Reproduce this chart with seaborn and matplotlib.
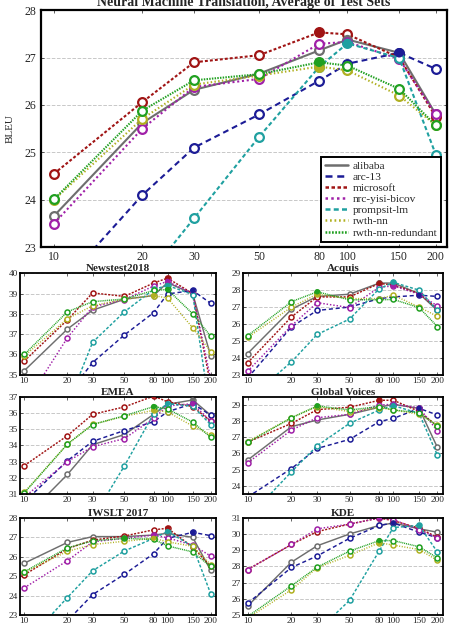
import matplotlib
matplotlib.use('Agg')
import matplotlib.pyplot as plt
from matplotlib.lines import Line2D
import seaborn as sns
import pandas as pd

sizes = [10, 20, 30, 50, 80, 100, 150, 200]
size_labels = ['10', '20', '30', '50', '80', '100', '150', '200']
systems = ['alibaba', 'arc-13', 'microsoft', 'nrc-yisi-bicov',
           'prompsit-lm', 'rwth-nn', 'rwth-nn-redundant']

# BLEU per system, one dict per test set
avg_scores = {
    'alibaba':           [23.66, 25.62, 26.32, 26.66, 27.15, 27.38, 27.10, 25.80],
    'arc-13':            [22.03, 24.10, 25.10, 25.80, 26.51, 26.87, 27.10, 26.76],
    'microsoft':         [24.55, 26.06, 26.90, 27.05, 27.53, 27.49, 27.00, 25.75],
    'nrc-yisi-bicov':    [23.50, 25.50, 26.38, 26.55, 27.29, 27.33, 26.97, 25.80],
    'prompsit-lm':       [20.50, 22.25, 23.61, 25.33, 26.80, 27.30, 26.99, 24.95],
    'rwth-nn':           [24.00, 25.71, 26.43, 26.62, 26.81, 26.73, 26.20, 25.57],
    'rwth-nn-redundant': [24.01, 25.88, 26.52, 26.65, 26.90, 26.83, 26.34, 25.57],
}
newstest_scores = {
    'alibaba':           [35.20, 37.25, 38.18, 38.72, 38.90, 39.54, 38.98, 35.94],
    'arc-13':            [32.00, 34.00, 35.60, 36.96, 38.06, 38.98, 39.15, 38.52],
    'microsoft':         [35.68, 37.70, 39.03, 38.86, 39.52, 39.76, 39.00, 34.50],
    'nrc-yisi-bicov':    [33.50, 36.82, 38.35, 38.70, 39.37, 39.60, 39.00, 34.80],
    'prompsit-lm':       [32.00, 33.50, 36.60, 38.10, 39.20, 39.40, 38.95, 33.00],
    'rwth-nn':           [35.92, 37.76, 38.40, 38.72, 38.90, 38.78, 37.31, 36.14],
    'rwth-nn-redundant': [36.00, 38.10, 38.60, 38.73, 39.15, 39.20, 38.00, 36.90],
}
acquis_scores = {
    'alibaba':           [24.25, 26.87, 27.63, 27.76, 28.42, 28.42, 27.80, 26.80],
    'arc-13':            [22.80, 25.83, 26.80, 27.00, 27.50, 27.60, 27.70, 27.63],
    'microsoft':         [23.70, 26.42, 27.60, 27.60, 28.40, 28.30, 27.80, 26.90],
    'nrc-yisi-bicov':    [23.20, 25.90, 27.26, 26.97, 28.17, 28.25, 27.76, 27.07],
    'prompsit-lm':       [21.50, 23.76, 25.38, 26.29, 28.09, 28.46, 28.00, 26.80],
    'rwth-nn':           [25.20, 27.00, 27.76, 27.50, 27.50, 27.70, 27.00, 26.45],
    'rwth-nn-redundant': [25.30, 27.32, 27.90, 27.43, 27.43, 27.45, 26.97, 25.85],
}
emea_scores = {
    'alibaba':           [29.50, 32.20, 34.04, 34.67, 35.92, 36.54, 36.81, 35.87],
    'arc-13':            [30.50, 33.05, 34.25, 34.92, 35.46, 36.08, 36.58, 35.87],
    'microsoft':         [32.75, 34.60, 35.92, 36.38, 37.05, 36.70, 36.40, 35.50],
    'nrc-yisi-bicov':    [30.80, 33.00, 33.92, 34.42, 35.67, 36.44, 36.58, 35.50],
    'prompsit-lm':       [26.50, 28.00, 29.50, 32.73, 35.96, 36.58, 36.42, 35.29],
    'rwth-nn':           [31.10, 34.08, 35.30, 35.80, 36.17, 36.08, 35.19, 34.67],
    'rwth-nn-redundant': [31.06, 34.08, 35.29, 35.83, 36.40, 36.25, 35.44, 34.50],
}
gv_scores = {
    'alibaba':           [25.59, 27.66, 28.07, 28.42, 28.86, 29.04, 28.79, 26.38],
    'arc-13':            [23.30, 25.07, 26.31, 26.87, 27.97, 28.17, 28.79, 28.38],
    'microsoft':         [26.70, 27.86, 28.71, 28.86, 29.29, 29.29, 28.60, 27.70],
    'nrc-yisi-bicov':    [25.42, 27.45, 28.21, 28.42, 29.00, 29.04, 28.83, 27.41],
    'prompsit-lm':       [22.00, 24.87, 26.48, 27.86, 28.69, 28.96, 28.48, 25.90],
    'rwth-nn':           [26.74, 28.21, 28.90, 28.59, 28.83, 28.69, 28.42, 27.76],
    'rwth-nn-redundant': [26.68, 28.21, 28.94, 28.69, 28.90, 28.69, 28.52, 27.70],
}
iwslt_scores = {
    'alibaba':           [25.67, 26.74, 27.04, 27.04, 27.12, 27.21, 27.00, 25.30],
    'arc-13':            [21.50, 22.70, 24.05, 25.10, 26.16, 26.95, 27.26, 27.09],
    'microsoft':         [25.07, 26.42, 26.86, 27.07, 27.39, 27.47, 26.50, 25.50],
    'nrc-yisi-bicov':    [24.40, 25.80, 26.77, 26.95, 27.12, 26.98, 26.60, 26.04],
    'prompsit-lm':       [21.50, 23.90, 25.28, 26.30, 26.95, 27.30, 26.54, 24.10],
    'rwth-nn':           [25.20, 26.28, 26.63, 26.80, 26.95, 26.77, 26.54, 25.60],
    'rwth-nn-redundant': [25.23, 26.46, 26.82, 26.95, 26.90, 26.56, 26.25, 25.50],
}
kde_scores = {
    'alibaba':           [25.55, 28.27, 29.28, 30.01, 30.54, 30.69, 30.33, 30.12],
    'arc-13':            [25.72, 27.94, 28.65, 29.74, 30.54, 30.69, 30.12, 29.78],
    'microsoft':         [27.81, 29.36, 30.16, 30.62, 31.00, 30.83, 30.37, 29.80],
    'nrc-yisi-bicov':    [27.81, 29.36, 30.33, 30.62, 31.00, 30.90, 30.27, 29.78],
    'prompsit-lm':       [22.00, 23.00, 24.00, 25.90, 28.97, 30.41, 30.54, 28.90],
    'rwth-nn':           [24.80, 26.56, 27.92, 28.69, 29.47, 29.32, 29.05, 28.38],
    'rwth-nn-redundant': [24.90, 26.81, 27.96, 28.95, 29.60, 29.60, 29.22, 28.53],
}

palette = {
    'alibaba': '#6e6e6e',
    'arc-13': '#1c1c96',
    'microsoft': '#a01414',
    'nrc-yisi-bicov': '#a020a8',
    'prompsit-lm': '#1fa0a0',
    'rwth-nn': '#b0b020',
    'rwth-nn-redundant': '#20a020',
}
dashes = {
    'alibaba': '',
    'arc-13': (2.8, 1.9),
    'microsoft': (1.4, 1.0),
    'nrc-yisi-bicov': (1.0, 1.3),
    'prompsit-lm': (2.0, 1.3),
    'rwth-nn': (0.7, 1.1),
    'rwth-nn-redundant': (0.7, 0.6),
}

sns.set_style('ticks')
plt.rcParams['font.family'] = ['Liberation Serif', 'DejaVu Serif']


def to_long(scores):
    rows = []
    for sys_name in systems:
        for s, v in zip(sizes, scores[sys_name]):
            rows.append({'system': sys_name, 'size': s, 'bleu': v})
    return pd.DataFrame(rows)


def draw(ax, scores, ylim, title, big=False):
    df = to_long(scores)
    ax.set_xscale('log')
    lw = 1.5 if big else 1.05
    ms = 6.3 if big else 3.6
    mew = 1.6 if big else 1.1
    sns.lineplot(data=df, x='size', y='bleu', hue='system', style='system',
                 palette=palette, dashes=dashes, markers={k: 'o' for k in systems},
                 hue_order=systems, style_order=systems, legend=False, ax=ax,
                 lw=lw, ms=ms, mfc='white', mew=mew)
    # open circles: seaborn paints marker edges white by default
    for line in ax.get_lines():
        line.set_markeredgecolor(line.get_color())
        line.set_markerfacecolor('white')
    # best point of each system drawn filled
    best = df.loc[df.groupby('system')['bleu'].idxmax()]
    sns.scatterplot(data=best, x='size', y='bleu', hue='system', palette=palette,
                    hue_order=systems, s=(ms ** 2) * 1.15, edgecolor='none',
                    legend=False, ax=ax, zorder=5)
    ax.set_xlim(9.0 if big else 9.3, 218)
    ax.set_ylim(*ylim)
    ax.set_xticks(sizes)
    ax.set_xticklabels(size_labels)
    lo = int(ylim[0]) if ylim[0] == int(ylim[0]) else int(ylim[0]) + 1
    ax.set_yticks(list(range(lo, int(ylim[1]) + 1)))
    ax.minorticks_off()
    ax.yaxis.grid(True, ls='--', color='#c8c8c8', lw=0.7)
    ax.set_xlabel('')
    ax.set_ylabel('')
    fs = 8.5 if big else 6.7
    ax.tick_params(labelsize=fs, direction='in', length=2.5, width=0.5,
                   pad=3 if big else 1.6, top=True, right=True)
    for sp in ax.spines.values():
        sp.set_visible(True)
        sp.set_color('black')
        sp.set_linewidth(1.6 if big else 1.3)
    ax.set_title(title, fontsize=10 if big else 8, fontweight='bold', pad=3 if big else 1.5)


fig = plt.figure(figsize=(4.5, 6.34), dpi=100)

ax_main = fig.add_axes([0.090, 0.610, 0.903, 0.374])
draw(ax_main, avg_scores, (23, 28), 'Neural Machine Translation, Average of Test Sets', big=True)
ax_main.set_ylabel('BLEU', fontsize=8, labelpad=7)
handles = [Line2D([], [], color=palette[k], lw=1.8,
                  ls='-' if dashes[k] == '' else (0, dashes[k])) for k in systems]
leg = ax_main.legend(handles, systems, loc='lower right', fontsize=8.2,
                     frameon=True, fancybox=False, framealpha=1,
                     edgecolor='black', handlelength=2.0, handletextpad=0.4,
                     labelspacing=0.1, borderpad=0.35, borderaxespad=0.5)
leg.get_frame().set_linewidth(1.4)

sub_left = [0.044, 0.540]
sub_width = [0.436, 0.444]
sub_rows = [(0.409, 0.160), (0.221, 0.153), (0.030, 0.153)]
panels = [
    (newstest_scores, (35, 40), 'Newstest2018'),
    (acquis_scores, (23, 29), 'Acquis'),
    (emea_scores, (31, 37), 'EMEA'),
    (gv_scores, (23.5, 29.5), 'Global Voices'),
    (iwslt_scores, (23, 28), 'IWSLT 2017'),
    (kde_scores, (25, 31), 'KDE'),
]
for i, (scores, ylim, title) in enumerate(panels):
    r, c = divmod(i, 2)
    bottom, height = sub_rows[r]
    ax = fig.add_axes([sub_left[c], bottom, sub_width[c], height])
    draw(ax, scores, ylim, title)

fig.savefig('out.png', dpi=100)
